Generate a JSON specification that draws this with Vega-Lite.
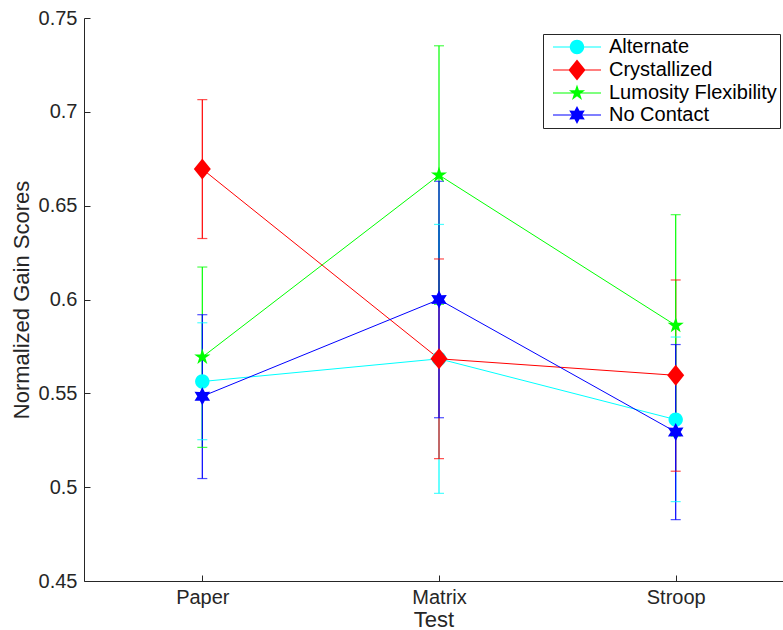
{
  "$schema": "https://vega.github.io/schema/vega-lite/v6.json",
  "autosize": "none",
  "padding": {"left": 84, "top": 18, "right": 0, "bottom": 49},
  "width": 699,
  "height": 563,
  "background": "white",
  "data": {"values": [
    {"test": "Paper", "group": "Alternate", "mean": 0.5563, "lo": 0.5253, "hi": 0.5876},
    {"test": "Matrix", "group": "Alternate", "mean": 0.5684, "lo": 0.4967, "hi": 0.6400},
    {"test": "Stroop", "group": "Alternate", "mean": 0.5360, "lo": 0.4923, "hi": 0.5800},
    {"test": "Paper", "group": "Crystallized", "mean": 0.6695, "lo": 0.6325, "hi": 0.7065},
    {"test": "Matrix", "group": "Crystallized", "mean": 0.5684, "lo": 0.5152, "hi": 0.6216},
    {"test": "Stroop", "group": "Crystallized", "mean": 0.5596, "lo": 0.5085, "hi": 0.6104},
    {"test": "Paper", "group": "Lumosity Flexibility", "mean": 0.5693, "lo": 0.5212, "hi": 0.6173},
    {"test": "Matrix", "group": "Lumosity Flexibility", "mean": 0.6663, "lo": 0.5974, "hi": 0.7352},
    {"test": "Stroop", "group": "Lumosity Flexibility", "mean": 0.5862, "lo": 0.5272, "hi": 0.6452},
    {"test": "Paper", "group": "No Contact", "mean": 0.5484, "lo": 0.5046, "hi": 0.5919},
    {"test": "Matrix", "group": "No Contact", "mean": 0.6000, "lo": 0.5370, "hi": 0.6630},
    {"test": "Stroop", "group": "No Contact", "mean": 0.5294, "lo": 0.4827, "hi": 0.5760}
  ]},
  "resolve": {"axis": {"x": "independent", "y": "independent"}},
  "encoding": {
    "color": {"field": "group", "type": "nominal",
      "scale": {"domain": ["Alternate", "Crystallized", "Lumosity Flexibility", "No Contact"],
                "range": ["#00ffff", "#ff0000", "#00ff00", "#0000ff"]},
      "legend": {
        "orient": "none", "legendX": 459, "legendY": 16,
        "title": null, "fillColor": "white", "strokeColor": "#262626",
        "padding": 3, "rowPadding": 2, "symbolSize": 400, "symbolOffset": 21, "labelOffset": 22,
        "symbolOpacity": 1, "symbolStrokeWidth": 0,
        "labelFontSize": 20, "labelColor": "#000000", "labelLimit": 400
      }}
  },
  "layer": [
    {
      "mark": {"type": "rule", "strokeWidth": 1.2},
      "encoding": {
        "x": {"field": "test", "type": "nominal",
          "scale": {"type": "point", "domain": ["Paper", "Matrix", "Stroop"], "padding": 0.4766, "align": 0.5244},
          "axis": {"title": "Test", "labelAngle": 0, "labelPadding": 6, "titlePadding": 2, "ticks": false}},
        "y": {"field": "lo", "type": "quantitative",
          "scale": {"domain": [0.45, 0.75], "nice": false, "zero": false},
          "axis": {"title": "Normalized Gain Scores", "values": [0.45, 0.5, 0.55, 0.6, 0.65, 0.7, 0.75], "format": "~g", "labelPadding": 7, "titlePadding": 5, "ticks": false}},
        "y2": {"field": "hi"}
      }
    },
    {
      "mark": {"type": "tick", "size": 10, "thickness": 1.2},
      "encoding": {
        "x": {"field": "test", "type": "nominal",
          "axis": {"orient": "top", "offset": -563, "labels": false, "domain": false, "ticks": true, "tickSize": 6, "title": null}},
        "y": {"field": "hi", "type": "quantitative",
          "axis": {"orient": "right", "offset": -699, "values": [0.45, 0.5, 0.55, 0.6, 0.65, 0.7, 0.75], "labels": false, "domain": false, "ticks": true, "tickSize": 6, "title": null}}
      }
    },
    {
      "mark": {"type": "tick", "size": 10, "thickness": 1.2},
      "encoding": {
        "x": {"field": "test", "type": "nominal", "axis": null},
        "y": {"field": "lo", "type": "quantitative", "axis": null}
      }
    },
    {
      "mark": {"type": "line", "strokeWidth": 1},
      "encoding": {
        "x": {"field": "test", "type": "nominal", "axis": null},
        "y": {"field": "mean", "type": "quantitative", "axis": null},
        "order": {"value": null}
      }
    },
    {
      "transform": [{"filter": "datum.group === 'Alternate'"}],
      "mark": {"type": "point", "filled": true, "opacity": 1, "size": 400, "shape": "M0.72,0A0.72,0.72 0 1,1 -0.72,0A0.72,0.72 0 1,1 0.72,0Z"},
      "encoding": {
        "x": {"field": "test", "type": "nominal", "axis": null},
        "y": {"field": "mean", "type": "quantitative", "axis": null}
      }
    },
    {
      "transform": [{"filter": "datum.group === 'Crystallized'"}],
      "mark": {"type": "point", "filled": true, "opacity": 1, "size": 400, "shape": "M0,-1.05L0.85,0L0,1.05L-0.85,0Z"},
      "encoding": {
        "x": {"field": "test", "type": "nominal", "axis": null},
        "y": {"field": "mean", "type": "quantitative", "axis": null}
      }
    },
    {
      "transform": [{"filter": "datum.group === 'Lumosity Flexibility'"}],
      "mark": {"type": "point", "filled": true, "opacity": 1, "size": 400, "shape": "M0,-0.85L0.191,-0.263L0.808,-0.263L0.309,0.1L0.5,0.688L0,0.325L-0.5,0.688L-0.309,0.1L-0.808,-0.263L-0.191,-0.263Z"},
      "encoding": {
        "x": {"field": "test", "type": "nominal", "axis": null},
        "y": {"field": "mean", "type": "quantitative", "axis": null}
      }
    },
    {
      "transform": [{"filter": "datum.group === 'No Contact'"}],
      "mark": {"type": "point", "filled": true, "opacity": 1, "size": 400, "shape": "M0,-0.9L0.25,-0.433L0.779,-0.45L0.5,0L0.779,0.45L0.25,0.433L0,0.9L-0.25,0.433L-0.779,0.45L-0.5,0L-0.779,-0.45L-0.25,-0.433Z"},
      "encoding": {
        "x": {"field": "test", "type": "nominal", "axis": null},
        "y": {"field": "mean", "type": "quantitative", "axis": null}
      }
    },
    {
      "mark": {"type": "point", "filled": true, "opacity": 0, "size": 400},
      "encoding": {
        "x": {"field": "test", "type": "nominal", "axis": null},
        "y": {"field": "mean", "type": "quantitative", "axis": null},
        "shape": {"field": "group", "type": "nominal",
          "scale": {"domain": ["Alternate", "Crystallized", "Lumosity Flexibility", "No Contact"],
            "range": [
              "M-2.4,-0.05H2.4V0.05H-2.4ZM0.72,0A0.72,0.72 0 1,1 -0.72,0A0.72,0.72 0 1,1 0.72,0Z",
              "M-2.4,-0.05H2.4V0.05H-2.4ZM0,-1.05L0.85,0L0,1.05L-0.85,0Z",
              "M-2.4,-0.05H2.4V0.05H-2.4ZM0,-0.85L0.191,-0.263L0.808,-0.263L0.309,0.1L0.5,0.688L0,0.325L-0.5,0.688L-0.309,0.1L-0.808,-0.263L-0.191,-0.263Z",
              "M-2.4,-0.05H2.4V0.05H-2.4ZM0,-0.9L0.25,-0.433L0.779,-0.45L0.5,0L0.779,0.45L0.25,0.433L0,0.9L-0.25,0.433L-0.779,0.45L-0.5,0L-0.779,-0.45L-0.25,-0.433Z"
            ]},
          "legend": {
            "orient": "none", "legendX": 459, "legendY": 16,
            "title": null, "fillColor": "white", "strokeColor": "#262626",
            "padding": 3, "rowPadding": 2, "symbolSize": 400, "symbolOffset": 21, "labelOffset": 22,
            "symbolOpacity": 1, "symbolStrokeWidth": 0,
            "labelFontSize": 20, "labelColor": "#000000", "labelLimit": 400
          }}
      }
    }
  ],
  "config": {
    "font": "Liberation Sans",
    "view": {"stroke": null},
    "axis": {
      "domainColor": "#262626", "tickColor": "#262626", "labelColor": "#262626", "titleColor": "#262626",
      "labelFontSize": 20, "titleFontSize": 22, "titleFontWeight": "normal",
      "grid": false, "domainWidth": 1, "tickWidth": 1
    }
  }
}
